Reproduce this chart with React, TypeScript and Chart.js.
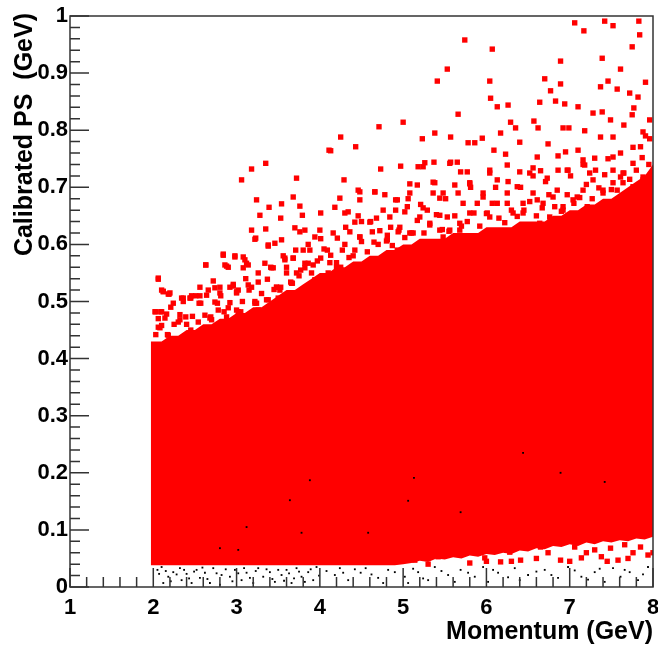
import React, { useEffect, useRef } from 'react';
import { Chart, registerables } from 'chart.js';

Chart.register(...registerables);

// contorno de la zona casi solida (momento, PS calibrado)
const bandMomentum = [1.97, 2.1, 2.2, 2.3, 2.4, 2.5, 2.6, 2.7, 2.8, 2.9, 3.0, 3.1, 3.2, 3.3, 3.4, 3.5, 3.6, 3.7, 3.8, 3.9,
  4.0, 4.1, 4.2, 4.3, 4.4, 4.5, 4.6, 4.7, 4.8, 4.9, 5.0, 5.1, 5.2, 5.3, 5.4, 5.5, 5.6, 5.7, 5.8, 5.9,
  6.0, 6.1, 6.2, 6.3, 6.4, 6.5, 6.6, 6.7, 6.8, 6.9, 7.0, 7.1, 7.2, 7.3, 7.4, 7.5, 7.6, 7.7, 7.8, 7.9, 8.0];
const bandTop = [0.43, 0.43, 0.44, 0.44, 0.45, 0.45, 0.46, 0.46, 0.47, 0.47, 0.48, 0.48, 0.49, 0.49, 0.50, 0.51, 0.52, 0.52, 0.53, 0.54,
  0.55, 0.55, 0.56, 0.56, 0.57, 0.57, 0.58, 0.58, 0.59, 0.59, 0.60, 0.60, 0.61, 0.61, 0.61, 0.61, 0.62, 0.62, 0.62, 0.62,
  0.63, 0.63, 0.63, 0.63, 0.64, 0.64, 0.64, 0.64, 0.65, 0.65, 0.66, 0.66, 0.67, 0.67, 0.68, 0.68, 0.69, 0.70, 0.71, 0.72, 0.74];
const bandBottom = [0.038, 0.038, 0.038, 0.038, 0.038, 0.038, 0.038, 0.038, 0.038, 0.038, 0.038, 0.038, 0.038, 0.038, 0.038, 0.038, 0.038, 0.038, 0.038, 0.038,
  0.038, 0.038, 0.038, 0.038, 0.038, 0.038, 0.038, 0.038, 0.038, 0.038, 0.040, 0.042, 0.046, 0.044, 0.050, 0.048, 0.052, 0.050, 0.055, 0.053,
  0.058, 0.056, 0.060, 0.058, 0.064, 0.062, 0.068, 0.066, 0.072, 0.070, 0.075, 0.072, 0.078, 0.075, 0.080, 0.078, 0.082, 0.080, 0.085, 0.083, 0.088];

// puntos rojos pegados al borde superior de la zona densa
const edgePoints: [number, number][] = [
  [2.03, 0.442], [2.10, 0.458], [2.17, 0.442], [2.25, 0.460], [2.32, 0.477], [2.40, 0.460], [2.47, 0.474],
  [2.55, 0.497], [2.62, 0.476], [2.70, 0.468], [2.77, 0.497], [2.85, 0.482], [2.92, 0.498], [3.00, 0.485],
  [3.07, 0.500], [3.15, 0.520], [3.22, 0.500], [3.30, 0.514], [3.37, 0.539], [3.45, 0.521], [3.52, 0.520],
  [3.60, 0.550], [3.67, 0.532], [3.75, 0.545], [3.82, 0.567], [3.90, 0.550], [3.97, 0.571], [4.05, 0.592],
  [4.12, 0.568], [4.20, 0.568], [4.27, 0.590], [4.35, 0.577], [4.42, 0.590], [4.50, 0.605], [4.57, 0.587],
  [4.65, 0.604], [4.72, 0.624], [4.80, 0.606], [4.87, 0.598], [4.95, 0.625], [5.02, 0.612], [5.10, 0.620],
  [5.17, 0.642], [5.25, 0.620], [5.32, 0.634], [5.40, 0.652], [5.47, 0.626], [5.55, 0.623], [5.62, 0.650],
  [5.70, 0.632], [5.77, 0.640], [5.85, 0.655], [5.92, 0.632], [6.00, 0.654], [6.07, 0.672], [6.15, 0.646],
  [6.22, 0.638], [6.30, 0.660], [6.37, 0.649], [6.45, 0.660], [6.52, 0.675], [6.60, 0.650], [6.67, 0.664],
  [6.75, 0.687], [6.82, 0.666], [6.90, 0.658], [6.97, 0.687], [7.05, 0.672], [7.12, 0.682], [7.20, 0.705],
  [7.27, 0.680], [7.35, 0.699], [7.42, 0.722], [7.50, 0.696], [7.57, 0.695], [7.65, 0.725], [7.72, 0.714],
  [7.80, 0.730], [7.87, 0.752], [7.95, 0.740],
  [2.06, 0.470], [2.21, 0.490], [2.36, 0.500], [2.51, 0.510], [2.66, 0.520], [2.81, 0.510], [2.96, 0.530],
  [3.11, 0.540], [3.26, 0.550], [3.41, 0.560], [3.56, 0.580], [3.71, 0.590], [3.86, 0.600], [4.01, 0.610],
  [4.16, 0.620], [4.31, 0.630], [4.46, 0.650], [4.61, 0.640], [4.76, 0.660], [4.91, 0.660], [5.06, 0.680],
  [5.21, 0.670], [5.36, 0.690], [5.51, 0.680], [5.66, 0.690], [5.81, 0.700], [5.96, 0.690], [6.11, 0.700],
  [6.26, 0.710], [6.41, 0.700], [6.56, 0.720], [6.71, 0.710], [6.86, 0.730], [7.01, 0.720], [7.16, 0.740],
  [7.31, 0.730], [7.46, 0.750], [7.61, 0.760], [7.76, 0.770], [7.91, 0.790],
];

// puntos rojos sueltos por encima y por debajo de la zona densa
const redPoints: [number, number][] = [
  [3.06, 0.713], [3.18, 0.732], [3.35, 0.742], [3.24, 0.678], [3.39, 0.665], [3.54, 0.671], [3.68, 0.683],
  [3.72, 0.716], [3.76, 0.667], [3.28, 0.651], [3.18, 0.625], [3.35, 0.627], [3.53, 0.646], [3.70, 0.629],
  [3.79, 0.651], [4.01, 0.655], [4.11, 0.765], [3.23, 0.611], [3.38, 0.597], [3.54, 0.608], [2.63, 0.564],
  [2.84, 0.583], [3.08, 0.578], [2.90, 0.560], [2.06, 0.541], [2.10, 0.520], [2.18, 0.513], [2.02, 0.482],
  [2.34, 0.506], [2.44, 0.506], [2.56, 0.510], [2.72, 0.536], [2.80, 0.525], [2.96, 0.527], [3.00, 0.515],
  [3.14, 0.529], [3.26, 0.534], [3.48, 0.525], [3.60, 0.560], [3.68, 0.576], [3.82, 0.559], [3.88, 0.590],
  [3.94, 0.613], [4.00, 0.625], [3.82, 0.625],
  [7.06, 0.988], [7.17, 0.974], [7.42, 0.991], [7.52, 0.983], [7.83, 0.991], [7.84, 0.967], [7.75, 0.946],
  [7.39, 0.926], [6.89, 0.921], [7.61, 0.907], [5.74, 0.958], [6.07, 0.942], [5.53, 0.907], [5.41, 0.886],
  [6.04, 0.886], [6.70, 0.890], [6.89, 0.881], [6.77, 0.869], [7.46, 0.886], [7.37, 0.876], [7.57, 0.872],
  [7.91, 0.884], [7.72, 0.865], [6.05, 0.856], [6.26, 0.844], [6.13, 0.841], [6.64, 0.849], [6.83, 0.851],
  [6.94, 0.846], [7.10, 0.841], [5.66, 0.828], [5.00, 0.814], [4.71, 0.806], [4.25, 0.788], [4.43, 0.771],
  [4.13, 0.764], [5.38, 0.795], [5.57, 0.788], [5.23, 0.785], [5.78, 0.778], [5.95, 0.786], [6.17, 0.795],
  [6.29, 0.814], [6.35, 0.804], [6.57, 0.816], [6.62, 0.804], [6.92, 0.804], [6.99, 0.804], [7.18, 0.799],
  [7.28, 0.830], [7.49, 0.818], [7.65, 0.809], [7.75, 0.827], [7.82, 0.858], [7.88, 0.797], [7.96, 0.818],
  [7.77, 0.839], [7.39, 0.832], [7.37, 0.788], [7.52, 0.788], [7.85, 0.771], [7.96, 0.785], [7.10, 0.765],
  [6.95, 0.762], [6.86, 0.755], [6.74, 0.776], [6.40, 0.779], [6.23, 0.758], [6.09, 0.765], [5.86, 0.778],
  [5.69, 0.727], [5.57, 0.744], [5.37, 0.744], [5.26, 0.743], [5.18, 0.736], [4.97, 0.737], [4.73, 0.732],
  [4.29, 0.713], [4.46, 0.695], [4.66, 0.692], [4.78, 0.687], [4.91, 0.678], [5.08, 0.706], [5.17, 0.704],
  [5.38, 0.708], [5.48, 0.690], [5.62, 0.704], [5.80, 0.706], [6.04, 0.725], [6.40, 0.727], [6.56, 0.734],
  [6.65, 0.729], [6.98, 0.730], [7.18, 0.739], [7.30, 0.751], [7.52, 0.753], [7.61, 0.718], [4.24, 0.681],
  [4.18, 0.665], [4.34, 0.657], [4.48, 0.678],
  [2.06, 0.539], [2.12, 0.518], [2.19, 0.513], [2.24, 0.497], [2.03, 0.482], [2.10, 0.482], [2.16, 0.478],
  [2.36, 0.506], [2.46, 0.510], [2.56, 0.525], [2.64, 0.511], [2.74, 0.499], [2.80, 0.515], [2.63, 0.564],
  [2.88, 0.562], [2.84, 0.581], [2.98, 0.580], [3.12, 0.567], [3.08, 0.559], [3.22, 0.609], [3.38, 0.599],
  [3.46, 0.602], [3.58, 0.576], [3.68, 0.576], [3.80, 0.590], [3.76, 0.622], [3.42, 0.559], [3.18, 0.525],
  [3.48, 0.525], [3.00, 0.517], [2.08, 0.454], [2.32, 0.468], [2.54, 0.464], [2.68, 0.471], [2.88, 0.473],
  [3.02, 0.482], [3.24, 0.497], [3.36, 0.503], [3.66, 0.532], [3.72, 0.550], [3.92, 0.564], [4.09, 0.590],
  [4.21, 0.611], [4.48, 0.613], [4.81, 0.616],
  [5.24, 0.736], [5.36, 0.709], [5.56, 0.742], [5.65, 0.744], [5.80, 0.708], [5.77, 0.727], [6.04, 0.730],
  [6.13, 0.713], [6.25, 0.739], [6.37, 0.701], [6.52, 0.725], [6.61, 0.753], [6.73, 0.716], [6.85, 0.695],
  [6.97, 0.730], [7.16, 0.748], [7.24, 0.725], [7.40, 0.695], [7.52, 0.730], [7.64, 0.708], [7.76, 0.742],
  [7.88, 0.713], [7.93, 0.683], [4.93, 0.678], [5.08, 0.690], [5.24, 0.664], [5.44, 0.681], [5.53, 0.648],
  [5.72, 0.672], [5.96, 0.683], [6.04, 0.648], [6.25, 0.672], [6.44, 0.655], [6.61, 0.678], [6.76, 0.648],
  [6.92, 0.666], [7.09, 0.683], [7.24, 0.655], [7.45, 0.672], [7.64, 0.648], [7.81, 0.678], [4.96, 0.630],
  [5.12, 0.620], [5.32, 0.637], [5.48, 0.613], [5.68, 0.625], [5.89, 0.608], [6.16, 0.620], [6.37, 0.602],
  [6.56, 0.625], [6.73, 0.613], [7.04, 0.625], [7.21, 0.608], [7.36, 0.630], [7.57, 0.620], [7.72, 0.613],
  [7.88, 0.630], [4.93, 0.590], [5.08, 0.578], [5.28, 0.595], [5.44, 0.573], [5.65, 0.590], [5.80, 0.578],
  [4.20, 0.560], [4.40, 0.580], [4.60, 0.570], [4.30, 0.600], [4.70, 0.600], [4.50, 0.640], [4.85, 0.630],
  [2.12, 0.517], [2.20, 0.515], [2.09, 0.482], [2.14, 0.471], [2.45, 0.506], [2.57, 0.497], [2.74, 0.524],
  [2.92, 0.525], [3.02, 0.520], [3.22, 0.497], [2.86, 0.564], [2.98, 0.578], [3.10, 0.573], [3.14, 0.564],
  [3.34, 0.567], [3.44, 0.559], [3.58, 0.573], [2.06, 0.455], [2.30, 0.464], [2.39, 0.473], [2.69, 0.473],
  [2.78, 0.485], [2.90, 0.489], [3.05, 0.482], [3.26, 0.485], [3.38, 0.503], [3.50, 0.506], [3.53, 0.525],
  [3.65, 0.534], [3.77, 0.555], [3.86, 0.567], [4.01, 0.576], [4.13, 0.581], [3.70, 0.508], [3.82, 0.524],
  [3.94, 0.538], [4.10, 0.550], [4.25, 0.560], [2.18, 0.441], [2.45, 0.450], [2.62, 0.441], [2.93, 0.455],
  [4.48, 0.692], [4.66, 0.692], [4.42, 0.639], [4.60, 0.639], [4.68, 0.646], [4.84, 0.648], [5.02, 0.657],
  [5.05, 0.666], [4.30, 0.655], [4.36, 0.622], [4.48, 0.613], [4.63, 0.622], [4.81, 0.608], [4.94, 0.622],
  [5.08, 0.620], [5.20, 0.648], [5.29, 0.660], [5.44, 0.651], [5.44, 0.625], [5.56, 0.625], [5.68, 0.637],
  [5.80, 0.655], [5.89, 0.672], [6.01, 0.655], [6.13, 0.672], [6.25, 0.690], [6.32, 0.655], [6.44, 0.672],
  [6.56, 0.690], [6.68, 0.672], [6.80, 0.683], [6.92, 0.660], [7.04, 0.678], [7.16, 0.695], [7.28, 0.713],
  [7.40, 0.690], [7.52, 0.708], [7.64, 0.725], [7.76, 0.701], [7.88, 0.718], [7.69, 0.678], [7.45, 0.660],
  [7.21, 0.666], [6.64, 0.637], [6.85, 0.630], [7.04, 0.643], [7.24, 0.637], [7.45, 0.630], [7.64, 0.648],
  [4.50, 0.045], [5.14, 0.047], [5.42, 0.053], [5.98, 0.051], [6.17, 0.044], [6.41, 0.047], [6.74, 0.060],
  [6.89, 0.047], [7.14, 0.051], [7.38, 0.053], [7.58, 0.047], [7.76, 0.060], [7.94, 0.056], [7.06, 0.070],
  [7.30, 0.065], [7.49, 0.068], [7.66, 0.074], [6.65, 0.070], [6.28, 0.061], [5.69, 0.060], [5.30, 0.040],
  [5.80, 0.042], [6.30, 0.045], [6.60, 0.050], [7.00, 0.045], [7.20, 0.060], [7.45, 0.045], [7.70, 0.050],
  [7.85, 0.070], [8.00, 0.060], [6.00, 0.045],
];

// puntos negros (la mayoria por debajo de 0.04)
const blackPoints: [number, number][] = [
  [2.10, 0.035], [2.07, 0.023], [2.12, 0.007], [2.18, 0.018], [2.24, 0.026], [2.32, 0.033], [2.34, 0.012],
  [2.40, 0.023], [2.46, 0.007], [2.52, 0.030], [2.56, 0.016], [2.62, 0.025], [2.68, 0.007], [2.72, 0.033],
  [2.80, 0.004], [2.82, 0.021], [2.92, 0.018], [2.98, 0.030], [3.06, 0.012], [3.12, 0.025], [3.20, 0.007],
  [3.26, 0.033], [3.32, 0.018], [3.40, 0.026], [3.46, 0.009], [3.54, 0.021], [3.60, 0.030], [3.66, 0.007],
  [3.72, 0.033], [3.78, 0.018], [3.86, 0.026], [3.92, 0.012], [3.96, 0.035],
  [2.05, 0.030], [2.15, 0.028], [2.21, 0.010], [2.28, 0.022], [2.37, 0.030], [2.43, 0.015], [2.49, 0.027],
  [2.59, 0.034], [2.65, 0.014], [2.76, 0.024], [2.87, 0.031], [2.95, 0.010], [3.02, 0.024], [3.09, 0.033],
  [3.16, 0.016], [3.23, 0.028], [3.36, 0.031], [3.43, 0.014], [3.50, 0.030], [3.57, 0.011], [3.63, 0.024],
  [3.69, 0.015], [3.75, 0.027], [3.82, 0.009], [3.89, 0.031], [3.99, 0.020],
  [4.18, 0.021], [4.24, 0.033], [4.34, 0.012], [4.49, 0.025], [4.55, 0.033], [4.70, 0.016], [4.76, 0.007],
  [4.82, 0.030], [5.02, 0.018], [5.06, 0.007], [5.18, 0.026], [5.30, 0.012], [5.38, 0.035], [5.54, 0.021],
  [5.62, 0.009], [5.69, 0.030], [5.86, 0.018], [5.96, 0.035], [6.02, 0.009], [6.14, 0.025], [6.34, 0.033],
  [6.40, 0.012], [6.50, 0.021], [6.70, 0.030], [6.86, 0.016], [6.98, 0.035], [7.14, 0.018], [7.30, 0.026],
  [7.42, 0.009], [7.52, 0.033], [7.61, 0.018], [7.72, 0.026], [7.82, 0.012], [7.94, 0.035],
  [4.08, 0.028], [4.28, 0.025], [4.42, 0.031], [4.62, 0.022], [4.90, 0.026], [5.12, 0.032], [5.24, 0.015],
  [5.46, 0.028], [5.78, 0.025], [6.08, 0.030], [6.26, 0.017], [6.60, 0.027], [6.78, 0.021], [7.06, 0.029],
  [7.22, 0.013], [7.36, 0.032], [7.66, 0.030], [7.88, 0.022],
  [3.88, 0.187], [3.64, 0.152], [3.12, 0.105], [2.80, 0.068], [3.02, 0.065], [3.78, 0.095], [5.13, 0.191],
  [5.06, 0.151], [6.44, 0.235], [6.89, 0.200], [7.42, 0.184], [5.69, 0.131], [4.58, 0.095],
];

const xTickLabels = ['1', '2', '3', '4', '5', '6', '7', '8'];
const yTickLabels = ['0', '0.1', '0.2', '0.3', '0.4', '0.5', '0.6', '0.7', '0.8', '0.9', '1'];

const FONT = '"Liberation Sans", Arial, Helvetica, sans-serif';

// marco estilo ROOT: ticks hacia dentro y titulos de ejes
const rootFrame = {
  id: 'rootFrame',
  afterDatasetsDraw(chart: any) {
    const { ctx, chartArea: a, scales } = chart;
    const x = scales.x;
    const y = scales.y;
    ctx.save();
    ctx.strokeStyle = '#333';
    ctx.lineWidth = 1.5;
    ctx.beginPath();
    for (let i = 0; i <= 35; i++) {
      const px = x.getPixelForValue(1 + i * 0.2);
      ctx.moveTo(px, a.bottom);
      ctx.lineTo(px, a.bottom - (i % 5 === 0 ? 19 : 10));
    }
    for (let i = 0; i <= 50; i++) {
      const py = y.getPixelForValue(i * 0.02);
      ctx.moveTo(a.left, py);
      ctx.lineTo(a.left + (i % 5 === 0 ? 19 : 10), py);
    }
    ctx.stroke();
    ctx.strokeRect(a.left, a.top, a.right - a.left, a.bottom - a.top);

    ctx.fillStyle = '#000';
    ctx.font = 'bold 25px ' + FONT;
    ctx.textAlign = 'right';
    ctx.textBaseline = 'alphabetic';
    ctx.fillText('Momentum (GeV)', a.right, 639);
    ctx.translate(32, 13);
    ctx.rotate(-Math.PI / 2);
    ctx.fillText('Calibrated PS  (GeV)', 0, 0);
    ctx.restore();
  },
};

function ScatterPS() {
  const canvasRef = useRef<HTMLCanvasElement>(null);

  useEffect(() => {
    document.body.style.margin = '0';
    const canvas = canvasRef.current;
    if (!canvas) return;
    const chart = new Chart(canvas, {
      type: 'scatter',
      data: {
        datasets: [
          {
            type: 'line',
            data: bandMomentum.map((m, i) => ({ x: m, y: bandTop[i] })),
            borderColor: 'transparent',
            backgroundColor: '#ff0000',
            pointRadius: 0,
            tension: 0,
            fill: '+1',
            order: 3,
          },
          {
            type: 'line',
            data: bandMomentum.map((m, i) => ({ x: m, y: bandBottom[i] })),
            borderColor: 'transparent',
            pointRadius: 0,
            tension: 0,
            fill: false,
            order: 3,
          },
          {
            data: edgePoints.concat(redPoints).map(([m, ps]) => ({ x: m, y: ps })),
            pointStyle: 'rect',
            pointRadius: 3.8,
            borderWidth: 0,
            backgroundColor: '#ff0000',
            order: 2,
          },
          {
            data: blackPoints.map(([m, ps]) => ({ x: m, y: ps })),
            pointStyle: 'rect',
            pointRadius: 1.3,
            borderWidth: 0,
            backgroundColor: '#000',
            order: 1,
          },
        ] as any,
      },
      options: {
        animation: false,
        responsive: true,
        maintainAspectRatio: false,
        layout: { padding: { top: 16, right: 5, left: 0, bottom: 0 } },
        plugins: { legend: { display: false }, tooltip: { enabled: false } },
        events: [],
        scales: {
          x: {
            type: 'linear',
            min: 1,
            max: 8,
            grid: { display: false, drawTicks: false },
            border: { display: false },
            ticks: {
              stepSize: 1,
              padding: 8,
              color: '#000',
              font: { family: FONT, size: 22, weight: 'bold' },
              callback: (v: any) => xTickLabels[Math.round(Number(v)) - 1],
            },
            afterFit: (s: any) => {
              s.height = 58;
              s.paddingLeft = 0;
              s.paddingRight = 0;
            },
          },
          y: {
            type: 'linear',
            min: 0,
            max: 1,
            grid: { display: false, drawTicks: false },
            border: { display: false },
            ticks: {
              stepSize: 0.1,
              padding: 2,
              color: '#000',
              font: { family: FONT, size: 22, weight: 'bold' },
              callback: (v: any) => yTickLabels[Math.round(Number(v) * 10)],
            },
            afterFit: (s: any) => {
              s.width = 70;
              s.paddingTop = 0;
              s.paddingBottom = 0;
            },
          },
        },
      },
      plugins: [rootFrame],
    });
    return () => {
      chart.destroy();
    };
  }, []);

  return (
    <div style={{ position: 'relative', width: 658, height: 645 }}>
      <canvas ref={canvasRef} />
    </div>
  );
}

export default function App() {
  return <ScatterPS />;
}
